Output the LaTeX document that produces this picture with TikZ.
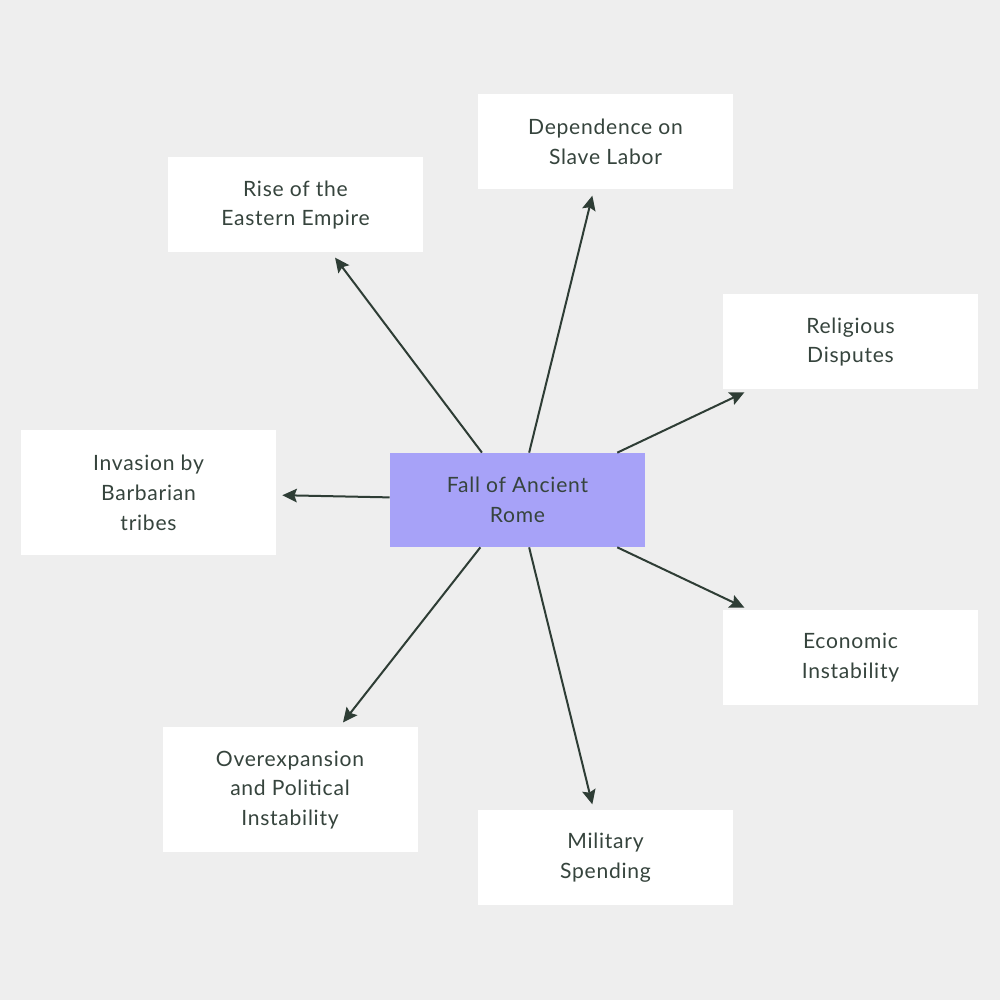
\documentclass[tikz,border=0pt]{standalone}
\usepackage{fontspec}
\setmainfont[LetterSpace=3.5]{Lato}
\usetikzlibrary{arrows.meta, positioning}
\definecolor{bgcol}{HTML}{EEEEEE}
\definecolor{rootcol}{HTML}{A7A2F8}
\definecolor{linecol}{HTML}{2E3D35}
\definecolor{textcol}{HTML}{36443D}
\tikzset{
    causa/.style={rectangle, fill=white, minimum width=5.1cm, minimum height=1.9cm, align=center, text=textcol, font=\fontsize{12}{17}\selectfont},
    freccia/.style={-{Stealth[length=0.29cm, width=0.27cm, inset=0.05cm]}, draw=linecol, line width=0.04cm, shorten >=0.12cm}
}

\begin{document}
\begin{tikzpicture}
        \fill[bgcol] (0,0) rectangle (20,20);
        \useasboundingbox (0,0) rectangle (20,20);
        \node[causa, fill=rootcol, minimum height=1.88cm] (caduta) at (10.35,10) {Fall of Ancient\\ Rome};
        \node[causa] (schiavi) at (12.11,17.16) {Dependence on\\ Slave Labor};
        \node[causa] (oriente) at (5.91,15.9) {Rise of the\\ Eastern Empire};
        \node[causa] (religione) at (17.01,13.16) {Religious\\ Disputes};
        \node[causa, minimum height=2.5cm] (invasioni) at (2.97,10.15) {Invasion by\\ Barbarian\\ tribes};
        \node[causa] (economia) at (17.01,6.84) {Economic\\ Instability};
        \node[causa, minimum height=2.5cm] (espansione) at (5.8,4.2) {Overexpansion\\ and Political\\ Instability};
        \node[causa] (militare) at (12.11,2.84) {Military\\ Spending};
        \foreach \dest in {schiavi, oriente, religione, invasioni, economia, espansione, militare}
            \draw[freccia] (caduta) -- (\dest);
    \end{tikzpicture}
\end{document}
